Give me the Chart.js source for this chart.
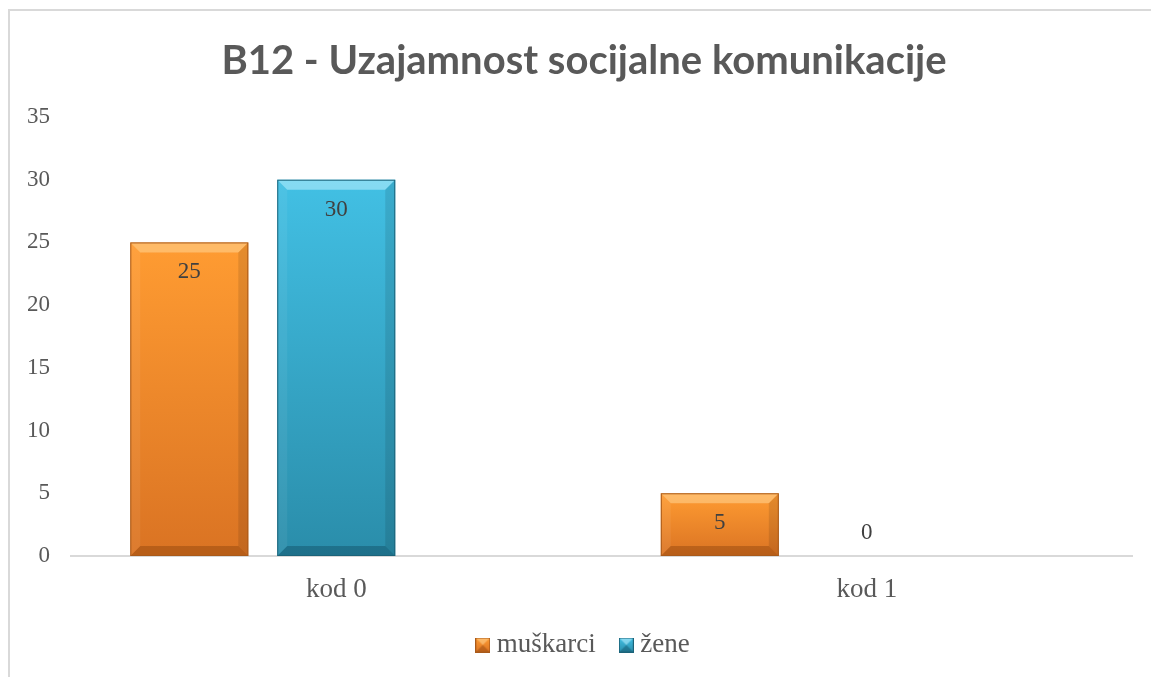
<!DOCTYPE html>
<html>
<head>
<meta charset="utf-8">
<script src="https://cdn.jsdelivr.net/npm/chart.js@4"></script>
<style>
html,body{margin:0;padding:0;background:#fff;}
#wrap{position:relative;width:1151px;height:677px;}
</style>
</head>
<body>
<div id="wrap"><canvas id="c" width="1151" height="677"></canvas></div>
<script>
const titleText = 'B12 - Uzajamnost socijalne komunikacije';
const categories = ['kod 0', 'kod 1'];
const seriesNames = ['muškarci', 'žene'];
const muskarci = [25, 5];
const zene = [30, 0];
const spacer = [null, null]; // empty third series present in the source chart
const yTicks = [0, 5, 10, 15, 20, 25, 30, 35];

const palette = {
  orange: {top: '#FF9C32', bottom: '#DA7323', edge: '#A95A1A', light: 'rgba(255,214,150,0.55)', dark: 'rgba(120,55,5,0.35)'},
  blue:   {top: '#42C0E4', bottom: '#2A8DAA', edge: '#1B6379', light: 'rgba(190,240,255,0.55)', dark: 'rgba(10,60,80,0.35)'}
};

// fit the title width
const mctx = document.createElement('canvas').getContext('2d');
mctx.font = 'bold 100px Lato';
const titleSize = Math.round(100 * 717 / mctx.measureText(titleText).width);

function barGradient(p) {
  return function(ctx) {
    const chart = ctx.chart;
    const ys = chart.scales && chart.scales.y;
    if (!ys || ctx.type !== 'data' || ctx.parsed == null) return p.top;
    const top = ys.getPixelForValue(ctx.parsed.y);
    const base = ys.getPixelForValue(0);
    if (!isFinite(top) || base - top < 1) return p.top;
    const g = chart.ctx.createLinearGradient(0, top, 0, base);
    g.addColorStop(0, p.top);
    g.addColorStop(1, p.bottom);
    return g;
  };
}

function legendIcon(p) {
  const c = document.createElement('canvas');
  c.width = 15; c.height = 15;
  const x = c.getContext('2d');
  const g = x.createLinearGradient(0, 0, 0, 15);
  g.addColorStop(0, p.top); g.addColorStop(1, p.bottom);
  x.fillStyle = g; x.fillRect(0, 0, 15, 15);
  x.fillStyle = p.light;
  x.beginPath(); x.moveTo(0,0); x.lineTo(15,0); x.lineTo(7.5,7.5); x.closePath(); x.fill();
  x.fillStyle = p.dark;
  x.beginPath(); x.moveTo(0,15); x.lineTo(15,15); x.lineTo(7.5,7.5); x.closePath(); x.fill();
  x.strokeStyle = p.edge; x.lineWidth = 1; x.strokeRect(0.5, 0.5, 14, 14);
  return c;
}

const frame = {
  id: 'frame',
  beforeLayout(chart) {
    const lg = chart.legend;
    if (lg && !lg._fixedFit) {
      const f = lg.fit;
      lg.fit = function() { f.call(this); this.height = 75.5; };
      lg._fixedFit = true;
    }
  },
  afterLayout(chart) {
    if (chart.titleBlock) { chart.titleBlock.left += 8; chart.titleBlock.right += 8; }
    if (chart.legend) { chart.legend.left += 10; chart.legend.right += 10; }
  },
  beforeDraw(chart) {
    const c = chart.ctx;
    c.save();
    c.fillStyle = '#fff';
    c.fillRect(0, 0, chart.width, chart.height);
    c.strokeStyle = '#D9D9D9';
    c.lineWidth = 2;
    c.beginPath();
    c.moveTo(9, chart.height);
    c.lineTo(9, 10);
    c.lineTo(chart.width, 10);
    c.stroke();
    c.restore();
  }
};

const bevel = {
  id: 'bevel',
  afterDatasetsDraw(chart) {
    const c = chart.ctx;
    const pals = [palette.orange, palette.blue];
    [0, 1].forEach(di => {
      const meta = chart.getDatasetMeta(di);
      const p = pals[di];
      meta.data.forEach(bar => {
        const l = bar.x - bar.width / 2, r = bar.x + bar.width / 2;
        const t = bar.y, b = bar.base;
        const h = b - t;
        if (h < 2) return;
        const e = Math.min(10, h / 3);
        c.save();
        c.fillStyle = p.light;
        c.beginPath(); c.moveTo(l, t); c.lineTo(r, t); c.lineTo(r - e, t + e); c.lineTo(l + e, t + e); c.closePath(); c.fill();
        c.fillStyle = p.dark;
        c.beginPath(); c.moveTo(l, b); c.lineTo(r, b); c.lineTo(r - e, b - e); c.lineTo(l + e, b - e); c.closePath(); c.fill();
        c.fillStyle = 'rgba(0,0,0,0.10)';
        c.beginPath(); c.moveTo(r, t); c.lineTo(r, b); c.lineTo(r - e, b - e); c.lineTo(r - e, t + e); c.closePath(); c.fill();
        c.fillStyle = 'rgba(255,255,255,0.06)';
        c.beginPath(); c.moveTo(l, t); c.lineTo(l, b); c.lineTo(l + e, b - e); c.lineTo(l + e, t + e); c.closePath(); c.fill();
        c.strokeStyle = p.edge; c.lineWidth = 1;
        c.strokeRect(l + 0.5, t + 0.5, r - l - 1, h - 1);
        c.restore();
      });
    });
  }
};

const valueLabels = {
  id: 'valueLabels',
  afterDatasetsDraw(chart) {
    const c = chart.ctx;
    c.save();
    c.font = '23px "Liberation Serif"';
    c.fillStyle = '#404040';
    c.textAlign = 'center';
    c.textBaseline = 'middle';
    [0, 1].forEach(di => {
      const ds = chart.data.datasets[di];
      chart.getDatasetMeta(di).data.forEach((bar, i) => {
        const v = ds.data[i];
        if (v == null) return;
        const y = (bar.base - bar.y) > 40 ? bar.y + 30 : (v === 0 ? bar.base - 23 : (bar.y + bar.base) / 2);
        c.fillText(String(v), bar.x, y);
      });
    });
    c.restore();
  }
};

new Chart(document.getElementById('c'), {
  type: 'bar',
  data: {
    labels: categories,
    datasets: [
      {label: seriesNames[0], data: muskarci, backgroundColor: barGradient(palette.orange), borderWidth: 0},
      {label: seriesNames[1], data: zene, backgroundColor: barGradient(palette.blue), borderWidth: 0},
      {label: '', data: spacer, backgroundColor: 'rgba(0,0,0,0)', borderWidth: 0}
    ]
  },
  options: {
    responsive: false,
    animation: false,
    categoryPercentage: 0.831,
    barPercentage: 0.803,
    layout: {padding: {left: 20, right: 19, top: 0, bottom: 0}},
    plugins: {
      title: {
        display: true,
        text: titleText,
        color: '#595959',
        font: {family: 'Lato', weight: 'bold', size: titleSize, lineHeight: 1.2},
        padding: {top: 61 - titleSize * 0.6, bottom: 117 - 61 - titleSize * 0.6}
      },
      legend: {
        position: 'bottom',
        labels: {
          usePointStyle: true,
          generateLabels(chart) {
            const icons = [legendIcon(palette.orange), legendIcon(palette.blue)];
            return seriesNames.map((n, i) => ({
              text: n, datasetIndex: i, pointStyle: icons[i],
              fillStyle: palette.orange.top, strokeStyle: 'transparent', lineWidth: 0, fontColor: '#595959', hidden: false
            }));
          },
          color: '#595959',
          font: {family: 'Liberation Serif', size: 27},
          padding: 30,
          boxWidth: 1,
          boxHeight: 15
        }
      },
      tooltip: {enabled: false}
    },
    scales: {
      x: {
        grid: {display: false, drawTicks: false},
        border: {display: true, color: '#D9D9D9', width: 2},
        ticks: {color: '#595959', font: {family: 'Liberation Serif', size: 27}, padding: 18},
        afterFit(s) { s.height = 45.5; }
      },
      y: {
        min: 0, max: 35,
        afterBuildTicks(s) { s.ticks = yTicks.map(v => ({value: v})); },
        grid: {display: false, drawTicks: false},
        border: {display: false},
        ticks: {color: '#595959', font: {family: 'Liberation Serif', size: 23}, padding: 21},
        afterFit(s) { s.width = 51; }
      }
    }
  },
  plugins: [frame, bevel, valueLabels]
});
</script>
</body>
</html>
